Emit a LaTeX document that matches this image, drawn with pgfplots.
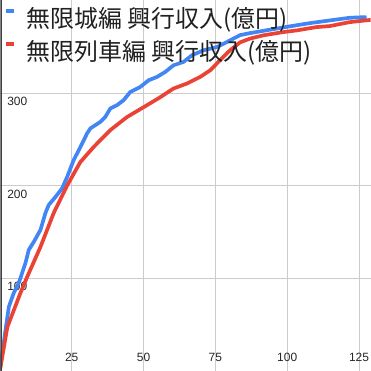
\documentclass[border=0pt]{standalone}
\usepackage{pgfplots}
\pgfplotsset{compat=1.18}
\usepackage{fontspec}
\setmainfont{Liberation Sans}
\newfontfamily\cjk{Noto Sans CJK JP}
\definecolor{gblue}{HTML}{4285F4}
\definecolor{gred}{HTML}{EA4335}
\definecolor{ggrid}{HTML}{CCCCCC}
\begin{document}
\begin{tikzpicture}
\begin{axis}[
  scale only axis, width=371pt, height=371pt,
  xmin=0.2, xmax=129, ymin=0, ymax=400,
  axis line style={draw=none},
  xtick={25,50,75,100,125}, ytick={100,200,300},
  major tick length=0pt,
  grid=major, grid style={ggrid, line width=0.9pt},
  /pgf/number format/assume math mode=true,
  tick label style={font=\fontsize{12}{14}\selectfont, text=black!85, inner sep=0pt},
  xticklabel style={anchor=south, yshift=9pt},
  yticklabel style={anchor=north west, xshift=6.7pt, yshift=-4pt},
  clip=true,
  legend style={at={(0,1)}, anchor=north west, xshift=5pt, yshift=-6.5pt,
    draw=none, fill=none, inner sep=0pt,
    font=\cjk\fontsize{24}{28}\selectfont, text=black!87,
    nodes={inner sep=0pt, text height=20pt, text depth=6pt},
    row sep=7pt,
    /tikz/every odd column/.append style={column sep=12.7pt}},
  legend cell align=left,
  legend image code/.code={\path[#1, draw=none, fill] (0pt,7.2pt) rectangle (8.3pt,10.8pt);},
]
\addplot[gblue, line width=3.7pt, line join=round] coordinates {
(0,0) (1.98,44.2) (3.13,69.0) (4.86,84.1) (6.60,94.9) (7.19,100.3) (8.92,116.4)
(10.07,130.5) (11.81,139.1) (14.13,152.0) (15.87,170.4) (17.01,179.0) (19.34,187.6)
(21.67,197.0) (23.40,209.2) (25.69,227.5) (28.02,241.5) (30.35,256.3) (31.49,261.7)
(34.97,268.8) (36.70,274.2) (38.44,283.2) (40.76,286.8) (43.06,292.2) (45.38,301.1)
(48.85,306.5) (51.74,313.7) (54.65,317.3) (57.53,322.7) (60.42,329.9) (63.89,333.5)
(66.81,340.7) (70.83,346.1) (75.49,349.6) (78.96,355.0) (83.58,362.5) (87.05,364.7)
(93.99,368.4) (100.9,372.0) (107.9,375.5) (114.8,378.4) (121.8,381.3) (127.6,382.0)
};
\addlegendentry{無限城編 興行収入(億円)}
\addplot[gred, line width=3.7pt, line join=round] coordinates {
(0,0) (2.6,47.0) (7.19,84.1) (9.51,101.3) (14.13,133.7) (18.75,170.4) (23.5,200.5)
(28.0,225.3) (32.6,241.5) (38.4,259.8) (44.2,273.9) (50.0,284.6) (55.8,295.4)
(60.4,304.8) (65.1,310.2) (69.7,317.3) (73.2,324.5) (76.6,335.3) (80.1,346.1)
(83.6,354.7) (87.0,358.7) (91.7,362.3) (98.6,365.8) (103.3,367.6) (110.2,371.2)
(114.8,372.3) (121.8,376.6) (129.1,379.0)
};
\addlegendentry{無限列車編 興行収入(億円)}
\draw[black!75, line width=1.4pt] ([xshift=0.7pt]rel axis cs:0,0) -- ([xshift=0.7pt]rel axis cs:0,1);
\end{axis}
\end{tikzpicture}
\end{document}
